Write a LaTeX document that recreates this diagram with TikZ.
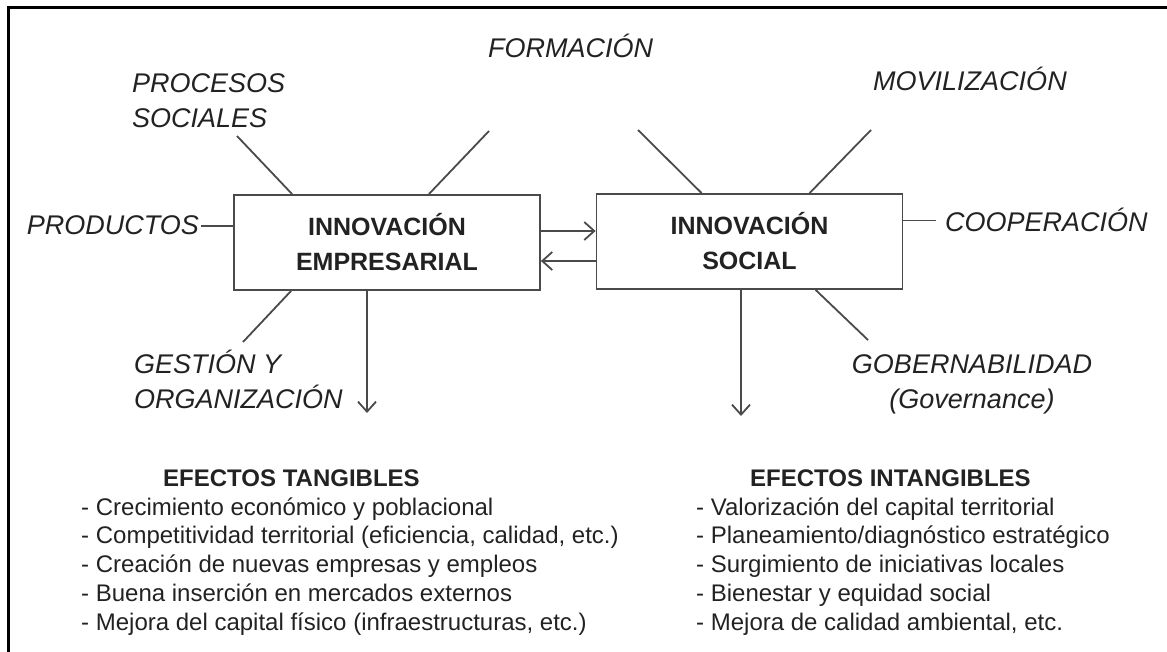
\documentclass[tikz,border=0pt]{standalone}
\usepackage{fontspec}
\setmainfont{Liberation Sans}
\usetikzlibrary{arrows.meta,calc}
\definecolor{ink}{HTML}{222222}
\definecolor{ln}{HTML}{4A4A4A}
\begin{document}
\begin{tikzpicture}[x=1pt,y=-1pt,
  lbl/.style={font=\fontsize{27}{35}\selectfont\itshape, text=ink, inner sep=0pt},
  box/.style={draw=ln, line width=1.8pt, minimum width=306pt, minimum height=95pt, align=center,
              font=\fontsize{25}{35}\selectfont\bfseries, text=ink, inner sep=0pt},
  conn/.style={draw=ln, line width=1.8pt},
  arr/.style={conn, -{Straight Barb[length=10pt,width=18pt,line width=1.8pt]}},
  hdr/.style={font=\fontsize{24}{29}\selectfont\bfseries, text=ink, inner sep=0pt, anchor=base west},
  itm/.style={font=\fontsize{24}{28.75}\selectfont, text=ink, inner sep=0pt, anchor=base west}
]
\useasboundingbox (0,0) rectangle (1167,652);
% frame
\draw[line width=3pt, black] (1167,8) -- (8,8) -- (8,652);

% boxes
\node[box] (b1) at (387,242.5) {INNOVACIÓN\\EMPRESARIAL};
\node[box] (b2) at (749.5,241.5) {INNOVACIÓN\\SOCIAL};

% labels
\node[lbl, anchor=base west] (procs) at (132,93) {\begin{tabular}[t]{@{}l@{}}PROCESOS\\SOCIALES\end{tabular}};
\node[lbl, anchor=base west] (form) at (488,58) {FORMACIÓN};
\node[lbl, anchor=base west] (movil) at (873,91) {MOVILIZACIÓN};
\node[lbl, anchor=base east] (prod) at (199,235) {PRODUCTOS};
\node[lbl, anchor=base west] (coop) at (945,232) {COOPERACIÓN};
\node[lbl, anchor=base west] (gest) at (134,373) {\begin{tabular}[t]{@{}l@{}}GESTIÓN Y\\ORGANIZACIÓN\end{tabular}};
\node[lbl, anchor=base] (gob) at (972,373) {\begin{tabular}[t]{@{}c@{}}GOBERNABILIDAD\\(Governance)\end{tabular}};

% free ends of the spokes
\coordinate (cprocs) at (237,136);
\coordinate (cform1) at (489,131);
\coordinate (cform2) at (638,130);
\coordinate (cmovil) at (871,130);
\coordinate (cgest) at (243,342);
\coordinate (cgob) at (868,340);
\coordinate (d1) at (367,413);
\coordinate (d2) at (741,416);

% spokes
\draw[conn] (cprocs) -- ($(b1.north west)+(59,0)$);
\draw[conn] (cform1) -- ($(b1.north east)+(-112,0)$);
\draw[conn] (cform2) -- ($(b2.north west)+(106,0)$);
\draw[conn] (cmovil) -- ($(b2.north west)+(214,0)$);
\draw[conn, shorten <=2pt] (prod.east) -- (prod.east -| b1.west);
\draw[conn, shorten >=9pt] (coop.west -| b2.east) -- (coop.west);
\draw[conn] ($(b1.south west)+(58,0)$) -- (cgest);
\draw[conn] ($(b2.south west)+(220,0)$) -- (cgob);

% arrows between boxes
\draw[arr] ([yshift=11.5pt]b1.east) -- ([yshift=11.5pt]b1.east -| b2.west);
\draw[arr] ([yshift=-19.5pt]b2.west) -- ([yshift=-19.5pt]b2.west -| b1.east);

% downward arrows
\draw[arr] (d1 |- b1.south) -- (d1);
\draw[arr] (d2 |- b2.south) -- (d2);

% effects
\node[hdr] (ht) at (163,486) {EFECTOS TANGIBLES};
\node[itm] (lt) at (81,515) {\begin{tabular}[t]{@{}l@{}}
- Crecimiento económico y poblacional\\
- Competitividad territorial (eficiencia, calidad, etc.)\\
- Creación de nuevas empresas y empleos\\
- Buena inserción en mercados externos\\
- Mejora del capital físico (infraestructuras, etc.)\end{tabular}};
\node[hdr] (hi) at (750,486) {EFECTOS INTANGIBLES};
\node[itm] (li) at (696,515) {\begin{tabular}[t]{@{}l@{}}
- Valorización del capital territorial\\
- Planeamiento/diagnóstico estratégico\\
- Surgimiento de iniciativas locales\\
- Bienestar y equidad social\\
- Mejora de calidad ambiental, etc.\end{tabular}};
\end{tikzpicture}
\end{document}
